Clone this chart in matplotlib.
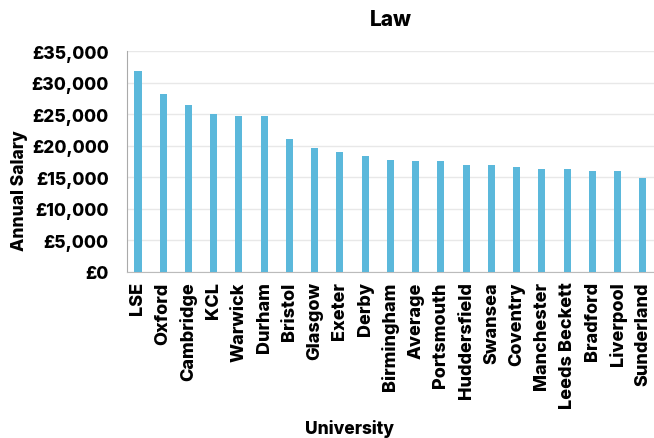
import matplotlib
matplotlib.use("Agg")
import matplotlib.pyplot as plt

universities = ["LSE", "Oxford", "Cambridge", "KCL", "Warwick", "Durham", "Bristol",
                "Glasgow", "Exeter", "Derby", "Birmingham", "Average", "Portsmouth",
                "Huddersfield", "Swansea", "Coventry", "Manchester", "Leeds Beckett",
                "Bradford", "Liverpool", "Sunderland"]
salaries = [31800, 28200, 26400, 25000, 24700, 24700, 21100,
            19600, 19000, 18400, 17800, 17500, 17500,
            16900, 16900, 16600, 16300, 16300,
            16000, 16000, 14800]
yticks = [0, 5000, 10000, 15000, 20000, 25000, 30000, 35000]

FAM = 'Inter'
W = 800
plt.rcParams['font.family'] = [FAM, 'DejaVu Sans']
plt.rcParams['font.weight'] = W

fig = plt.figure(figsize=(6.54, 4.39), dpi=100)
ax = fig.add_axes([0.194, 0.379, 0.806, 0.502])

x = list(range(len(universities)))
ax.bar(x, salaries, width=0.28, color="#5BB8DB", zorder=3)

ax.set_xlim(-0.44, len(universities) - 0.56)
ax.set_ylim(0, 35000)
ax.set_yticks(yticks)
ax.set_yticklabels(["£{:,.0f}".format(v) for v in yticks], family=FAM, fontweight=W, fontsize=12.5)
ax.grid(axis='y', color="#E8E8E8", linewidth=1, zorder=0)
ax.set_xticks(x)
ax.set_xticklabels(universities, rotation=90, family=FAM, fontsize=13, fontweight=W)
ax.tick_params(axis='both', length=0)
ax.tick_params(axis='y', pad=13)
ax.tick_params(axis='x', pad=7)

for s in ['top', 'right']:
    ax.spines[s].set_visible(False)
ax.spines['left'].set_color("#AAAAAA")
ax.spines['bottom'].set_color("#BBBBBB")

ax.set_title("Law", family=FAM, fontsize=15, fontweight=W, pad=19)
fig.text(0.03, 0.565, "Annual Salary", rotation=90, ha='center', va='center',
         family=FAM, fontsize=12.5, fontweight=W)
fig.text(0.535, 0.022, "University", ha='center', va='center', family=FAM, fontsize=12.5, fontweight=W)

fig.savefig("out.png", dpi=100)
